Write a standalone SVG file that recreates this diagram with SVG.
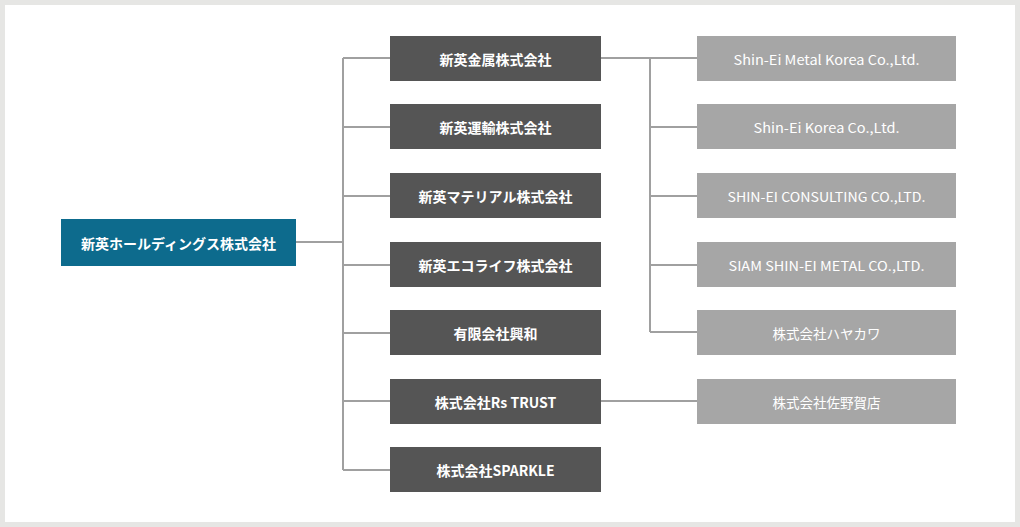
<svg xmlns="http://www.w3.org/2000/svg" width="1020" height="527" viewBox="0 0 1020 527">
<style>
.t{font-family:"Noto Sans CJK JP","Noto Sans",sans-serif;font-size:14px;font-weight:bold;fill:#fff;text-anchor:middle;dominant-baseline:central}
.r{font-family:"Noto Sans CJK JP","Roboto",sans-serif;font-size:13.5px;fill:#fff;text-anchor:middle;dominant-baseline:central}
.m{fill:#555}.g{fill:#a6a6a6}
.c{stroke:#a0a0a0;stroke-width:2;fill:none}
</style>
<rect width="1020" height="527" fill="#e6e6e4"/>
<rect x="5" y="5" width="1010" height="517" fill="#fff"/>
<g id="connectors" class="c">
<path d="M296 242H343M343 58V470M343 58H390M343 127H390M343 196H390M343 265H390M343 333H390M343 401H390M343 470H390"/>
<path d="M601 58H697M650 58V332M650 127H697M650 196H697M650 265H697M650 332H697M601 401H697"/>
</g>
<g id="root"><rect x="61" y="219" width="235" height="47" fill="#0d6b8d"/><text class="t" x="178.5" y="242.5">新英ホールディングス株式会社</text></g>
<g id="m1"><rect class="m" x="390" y="36" width="211" height="45"/><text class="t" x="495.5" y="58.5">新英金属株式会社</text></g>
<g id="m2"><rect class="m" x="390" y="104" width="211" height="45"/><text class="t" x="495.5" y="126.5">新英運輸株式会社</text></g>
<g id="m3"><rect class="m" x="390" y="173" width="211" height="45"/><text class="t" x="495.5" y="195.5">新英マテリアル株式会社</text></g>
<g id="m4"><rect class="m" x="390" y="242" width="211" height="45"/><text class="t" x="495.5" y="264.5">新英エコライフ株式会社</text></g>
<g id="m5"><rect class="m" x="390" y="310" width="211" height="45"/><text class="t" x="495.5" y="332.5">有限会社興和</text></g>
<g id="m6"><rect class="m" x="390" y="379" width="211" height="45"/><text class="t" x="495.5" y="401.5">株式会社Rs TRUST</text></g>
<g id="m7"><rect class="m" x="390" y="447" width="211" height="45"/><text class="t" x="495.5" y="469.5">株式会社SPARKLE</text></g>
<g id="s1"><rect class="g" x="697" y="36" width="259" height="45"/><text class="r" x="826.5" y="58.5" textLength="186" lengthAdjust="spacingAndGlyphs">Shin-Ei Metal Korea Co.,Ltd.</text></g>
<g id="s2"><rect class="g" x="697" y="104" width="259" height="45"/><text class="r" x="826.5" y="126.5" textLength="146" lengthAdjust="spacingAndGlyphs">Shin-Ei Korea Co.,Ltd.</text></g>
<g id="s3"><rect class="g" x="697" y="173" width="259" height="45"/><text class="r" x="826.5" y="195.5" textLength="198" lengthAdjust="spacingAndGlyphs">SHIN-EI CONSULTING CO.,LTD.</text></g>
<g id="s4"><rect class="g" x="697" y="242" width="259" height="45"/><text class="r" x="826.5" y="264.5" textLength="196" lengthAdjust="spacingAndGlyphs">SIAM SHIN-EI METAL CO.,LTD.</text></g>
<g id="s5"><rect class="g" x="697" y="310" width="259" height="45"/><text class="r" x="826.5" y="332.5">株式会社ハヤカワ</text></g>
<g id="s6"><rect class="g" x="697" y="379" width="259" height="45"/><text class="r" x="826.5" y="401.5">株式会社佐野賀店</text></g>
</svg>
